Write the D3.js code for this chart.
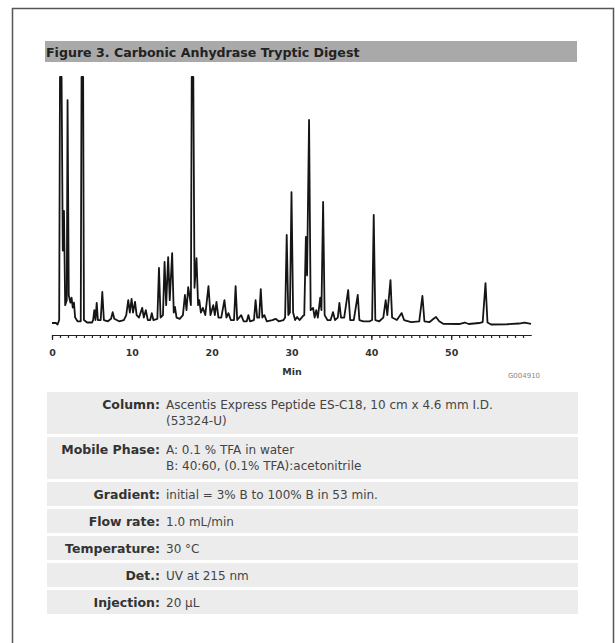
<!DOCTYPE html>
<head>
  <meta charset="utf-8">
  <script src="https://d3js.org/d3.v7.min.js"></script>
  <style>
    body { margin:0; background:#fff; }
    .trace { fill:none; stroke:#151515; stroke-width:1.8px; stroke-linejoin:round; }
    .axis path, .axis line { stroke:#222; stroke-width:1.2px; }
    .axis text { font-family:"DejaVu Sans"; font-size:9.5px; font-weight:bold; fill:#333; }
    .lab { font-family:"DejaVu Sans"; font-size:12.5px; font-weight:bold; fill:#333; }
    .val { font-family:"DejaVu Sans"; font-size:12px; fill:#444; }
  </style>
</head>
<body>
  <script>
    // chromatogram trace: [time (min), signal (% of full scale)]
    var trace = [
      [0,0.8],[0.5,0.8],[0.7,0.2],[0.9,2],[1.0,100],[1.2,100],[1.35,30],[1.5,46],[1.65,8],
      [1.85,10],[1.95,90.7],[2.1,12],[2.3,9],[2.45,11],[2.6,7],[2.75,9],[2.9,3],[3.2,1.5],
      [3.6,1.5],[3.7,100],[3.9,100],[4.0,2],[4.4,1],[5.0,1],[5.15,2],[5.3,6],[5.45,2],
      [5.6,8.9],[5.75,2],[6.1,2],[6.3,13.3],[6.5,2],[7.0,1.5],[7.4,2.5],[7.6,5.2],[7.8,2.5],
      [8.4,1.5],[9.0,2],[9.3,4],[9.55,10],[9.75,5],[9.97,10.5],[10.15,5],[10.4,9.3],[10.6,4],
      [10.9,3],[11.3,6.9],[11.5,3],[11.75,6],[12.0,2],[12.3,2],[12.5,4.8],[12.7,2],[13.2,2.5],
      [13.4,23],[13.6,3],[13.9,4],[14.1,25.4],[14.3,8],[14.55,27.4],[14.75,10],[15.05,29],
      [15.25,5],[15.4,7.3],[15.6,3],[16.0,2.5],[16.4,4],[16.65,12.1],[16.85,6],[17.06,15.3],
      [17.4,8],[17.5,100],[17.7,100],[17.85,15],[18.1,27],[18.3,8],[18.45,10],[18.65,5],
      [18.9,6.9],[19.2,4],[19.6,15.7],[19.85,4],[20.2,8],[20.4,4],[20.6,9.3],[20.85,3],
      [21.2,3],[21.6,10],[21.85,3],[22.1,4.8],[22.4,2],[22.8,2],[23.0,15.7],[23.2,2],[23.7,4],
      [24.0,1.5],[24.4,1.5],[24.6,4],[24.8,1.5],[25.3,2],[25.5,10],[25.7,3],[25.95,3],
      [26.15,14.5],[26.35,3],[26.6,4],[26.9,1.5],[27.6,2],[28.0,2.5],[28.4,1.5],[29.0,2],
      [29.2,3],[29.4,36.3],[29.6,4],[29.8,5],[30.0,53.6],[30.2,5],[30.45,2],[30.7,3.2],
      [31.0,2],[31.4,3.5],[31.6,4],[31.8,35.5],[31.95,20],[32.2,82.7],[32.4,6],[32.7,6.9],
      [32.9,3],[33.1,6],[33.3,3],[33.6,11],[33.75,6],[33.96,49.6],[34.15,4],[34.5,2],
      [34.9,2],[35.2,5.2],[35.45,2],[35.8,3],[36.0,8.9],[36.2,3],[36.6,3],[37.1,14.1],
      [37.35,2],[37.8,2],[38.3,12.1],[38.5,2],[39.0,1.5],[39.8,1.5],[40.1,2],[40.3,44.4],
      [40.5,2],[41.0,1.5],[41.5,3],[41.8,10],[42.0,4],[42.4,18.1],[42.6,3],[43.2,2],
      [43.8,4.8],[44.1,2],[45.0,1.2],[46.0,1.5],[46.4,11.7],[46.65,1.5],[47.3,1.2],[47.8,2.5],
      [48.1,3.2],[48.5,1.5],[49.0,0.5],[51.0,0.4],[51.7,1],[52.2,0.4],[53.5,0.8],[53.95,1.2],
      [54.3,16.9],[54.55,1],[55.0,0.2],[57.0,0.3],[58.5,0.6],[59.2,1],[60.0,0.5]
    ];
    var majorTicks = [0,10,20,30,40,50];
    var minorTicks = d3.range(0,60);

    var title = "Figure 3. Carbonic Anhydrase Tryptic Digest";
    var condLabels = ["Column:","Mobile Phase:","Gradient:","Flow rate:","Temperature:","Det.:","Injection:"];
    var condValues = [
      ["Ascentis Express Peptide ES-C18, 10 cm x 4.6 mm I.D.","(53324-U)"],
      ["A: 0.1 % TFA in water","B: 40:60, (0.1% TFA):acetonitrile"],
      ["initial = 3% B to 100% B in 53 min."],
      ["1.0 mL/min"],
      ["30 °C"],
      ["UV at 215 nm"],
      ["20 µL"]
    ];

    var svg = d3.select("body")
      .append("svg")
      .attr("width",615)
      .attr("height",643)

    // outer frame
    svg.append("rect")
      .attr("x",12.5).attr("y",8.5)
      .attr("width",601).attr("height",640)
      .style("fill","none").style("stroke","#555").style("stroke-width",1.5)

    // title bar
    svg.append("rect")
      .attr("x",45).attr("y",41)
      .attr("width",532).attr("height",21)
      .style("fill","#a9a9a9")
    svg.append("text")
      .attr("x",46).attr("y",56.5)
      .style("font-family","DejaVu Sans").style("font-size","12.6px")
      .style("font-weight","bold").style("fill","#222")
      .text(title)

    var x = d3.scaleLinear().domain([0,60]).range([52,531]);
    var y = d3.scaleLinear().domain([0,100]).range([325,77]);

    var line = d3.line()
      .x(function(d){ return x(d[0]); })
      .y(function(d){ return y(d[1]); });

    svg.append("path")
      .datum(trace)
      .attr("class","trace")
      .attr("d",line)

    // minor ticks
    svg.append("g")
      .attr("class","axis")
      .attr("transform","translate(0,335)")
      .call(d3.axisBottom(x).tickValues(minorTicks).tickSize(3).tickSizeOuter(0).tickFormat(""))
    // major ticks + labels
    svg.append("g")
      .attr("class","axis")
      .attr("transform","translate(0,335)")
      .call(d3.axisBottom(x).tickValues(majorTicks).tickSize(5).tickSizeOuter(0).tickPadding(9))

    svg.append("text")
      .attr("x",292).attr("y",375)
      .attr("text-anchor","middle")
      .style("font-family","DejaVu Sans").style("font-size","9.5px")
      .style("font-weight","bold").style("fill","#333")
      .text("Min")
    svg.append("text")
      .attr("x",524).attr("y",378)
      .attr("text-anchor","middle")
      .style("font-family","DejaVu Sans").style("font-size","7px")
      .style("fill","#888")
      .text("G004910")

    // conditions table
    var rowTop = 392, rowGap = 3;
    condLabels.forEach(function(lab,i){
      var lines = condValues[i];
      var h = lines.length > 1 ? 42 : 24;
      var g = svg.append("g").attr("transform","translate(0," + rowTop + ")");
      g.append("rect")
        .attr("x",47).attr("y",0)
        .attr("width",531).attr("height",h)
        .style("fill","#ececec")
      g.append("text")
        .attr("class","lab")
        .attr("x",160).attr("y",16.5)
        .attr("text-anchor","end")
        .text(lab)
      lines.forEach(function(t,j){
        g.append("text")
          .attr("class","val")
          .attr("x",166).attr("y",16.5 + j*16)
          .text(t)
      });
      rowTop += h + rowGap;
    });
  </script>
</body>
